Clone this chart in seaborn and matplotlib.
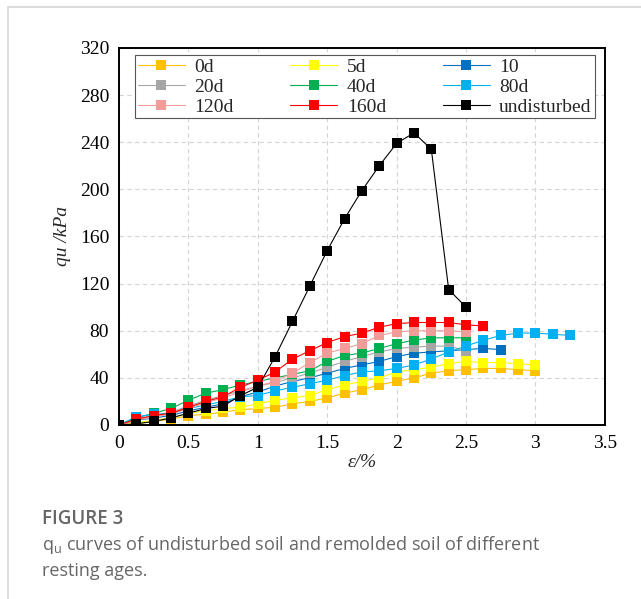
import matplotlib
matplotlib.use("Agg")
import matplotlib.pyplot as plt
import numpy as np
import pandas as pd
import seaborn as sns
from matplotlib.patches import Rectangle

# strain step of the test, in %
STEP = 0.125

labels = ["0d", "5d", "10", "20d", "40d", "80d", "120d", "160d", "undisturbed"]
colors = ["#FFC000", "#FFFF00", "#0070C0", "#A6A6A6", "#00B050",
          "#00B0F0", "#F19C99", "#FF0000", "#000000"]

qu_0d = [0, 1, 3, 5, 8, 9, 11, 13, 14, 15, 18, 20, 23, 27, 30, 34, 37, 40,
         44, 46, 47, 48, 48, 47, 46]
qu_5d = [0, 2, 4, 6, 10, 12, 14, 15, 18, 21, 23, 25, 30, 34, 37, 40, 45, 47,
         49, 52, 54, 53, 53, 52, 51]
qu_10 = [0, 4, 6, 8, 12, 15, 18, 24, 28, 33, 37, 40, 44, 48, 51, 54, 58, 61,
         62, 63, 64, 65, 64]
qu_20d = [0, 5, 8, 11, 16, 21, 25, 29, 33, 36, 40, 44, 49, 54, 58, 62, 65, 66,
          67, 67, 63]
qu_40d = [0, 6, 10, 14, 21, 27, 30, 34, 37, 40, 43, 46, 54, 59, 61, 65, 69, 72,
          74, 74, 74]
qu_80d = [0, 7, 9, 10, 14, 17, 20, 24, 25, 29, 32, 35, 38, 42, 45, 46, 48, 51,
          56, 62, 67, 72, 76, 78, 78, 77, 76]
qu_120d = [0, 4, 7, 9, 14, 19, 23, 28, 33, 37, 44, 53, 61, 65, 69, 76, 79, 80,
           80, 80, 79]
qu_160d = [0, 5, 8, 10, 15, 20, 24, 32, 38, 45, 56, 63, 70, 75, 78, 83, 86, 87,
           87, 87, 85, 84]
qu_undisturbed = [0, 1, 3, 6, 10, 14, 16, 25, 32, 58, 88, 118, 148, 175, 199,
                  220, 239, 248, 234, 115, 100]

series = [qu_0d, qu_5d, qu_10, qu_20d, qu_40d, qu_80d, qu_120d, qu_160d,
          qu_undisturbed]

x_ticks = [0, 0.5, 1, 1.5, 2, 2.5, 3, 3.5]
y_ticks = [0, 40, 80, 120, 160, 200, 240, 280, 320]

sns.set_style("white")
serif = ["Liberation Serif", "DejaVu Serif"]
plt.rcParams["font.family"] = serif

fig = plt.figure(figsize=(6.41, 5.99), dpi=100)
ax = fig.add_axes([0.1856, 0.2905, 0.758, 0.6294])

for name, vals, col in zip(labels, series, colors):
    df = pd.DataFrame({"strain": np.arange(len(vals)) * STEP, "qu": vals})
    sns.lineplot(data=df, x="strain", y="qu", ax=ax, color=col, label=name,
                 marker="s", markersize=6.6, markeredgewidth=0, linewidth=0.8,
                 sort=False)

ax.set_xlim(0, 3.5)
ax.set_ylim(0, 320)
ax.set_xticks(x_ticks)
ax.set_xticklabels(["0", "0.5", "1", "1.5", "2", "2.5", "3", "3.5"])
ax.set_yticks(y_ticks)
ax.grid(True, color="#d4d4d4", linestyle=(0, (4, 3)), linewidth=0.8)
for s in ax.spines.values():
    s.set_color("black")
    s.set_linewidth(1.4)
ax.tick_params(axis="both", direction="out", length=4, width=1.2,
               labelsize=14, pad=3, colors="black")
ax.set_xlabel("ε/%", fontsize=14, style="italic", labelpad=2)
ax.set_ylabel("qu /kPa", fontsize=14, style="italic", labelpad=6)

# legend is filled row by row in the original
handles, names = ax.get_legend_handles_labels()
order = [0, 3, 6, 1, 4, 7, 2, 5, 8]
ax.legend([handles[i] for i in order], [names[i] for i in order],
          ncol=3, loc="upper left", bbox_to_anchor=(0.033, 0.809, 0.946, 0.172),
          mode="expand", fontsize=14, frameon=True, fancybox=False,
          edgecolor="#555555", framealpha=1, handlelength=2.4,
          labelspacing=0.12, borderpad=0.15, handletextpad=0.5,
          columnspacing=1.0, borderaxespad=0)
ax.get_legend().get_frame().set_linewidth(0.8)

# page card border
fig.patches.append(Rectangle((8 / 641, -0.1), 1.2, 1 - 7 / 599 + 0.1,
                             transform=fig.transFigure, fill=False,
                             edgecolor="#d6d6d6", linewidth=1.2))

sans = ["Open Sans", "DejaVu Sans"]
fig.text(42 / 641, 1 - 519 / 599, "FIGURE 3", family=sans, fontsize=13.5,
         color="#666666", va="center", ha="left", weight="semibold")
fig.text(42 / 641, 1 - 545 / 599,
         r"q$_\mathregular{u}$ curves of undisturbed soil and remolded soil of different",
         family=sans, fontsize=13, color="#666666", va="center", ha="left")
fig.text(42 / 641, 1 - 571 / 599, "resting ages.", family=sans, fontsize=13,
         color="#666666", va="center", ha="left")

fig.savefig("out.png", dpi=100)
